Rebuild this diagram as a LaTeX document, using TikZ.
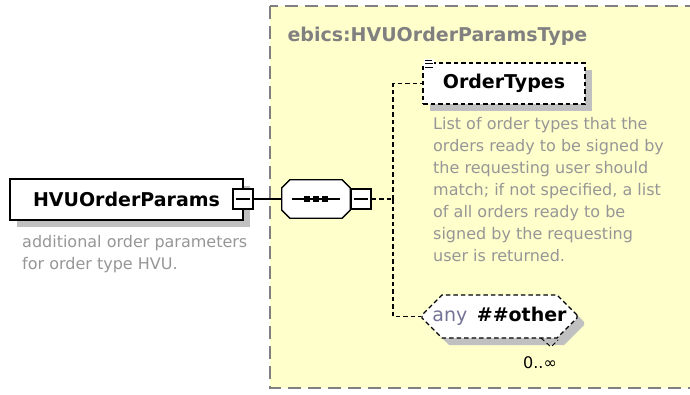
\documentclass[tikz,border=0pt]{standalone}
\usepackage{fontspec}
\setmainfont{DejaVu Sans}
\usetikzlibrary{positioning,shapes.misc,shadows}

\definecolor{typefill}{RGB}{255,255,204}
\definecolor{typeframe}{RGB}{128,128,128}
\definecolor{shadowgray}{RGB}{192,192,192}
\definecolor{docgray}{RGB}{150,150,150}
\definecolor{anygray}{RGB}{115,115,150}

\begin{document}
\begin{tikzpicture}[x=1pt, y=-1pt,
  box shadow/.style={general shadow={fill=shadowgray, draw=none, shadow xshift=7pt, shadow yshift=-7pt}},
  dashbox/.style={dash pattern=on 4.5pt off 3pt},
  elembox/.style={draw, fill=white, line width=1.3pt, box shadow, minimum height=41pt, inner sep=0pt, font=\bfseries\fontsize{19}{22}\selectfont},
  optbox/.style={elembox, dashbox},
  seqbox/.style={minimum width=68pt, minimum height=38pt, inner sep=0pt},
  anybox/.style={chamfered rectangle, chamfered rectangle xsep=9pt, chamfered rectangle ysep=11pt, draw, dashbox, fill=white, line width=1.3pt, box shadow, minimum width=155pt, minimum height=43pt, inner sep=0pt, font=\bfseries\fontsize{19}{22}\selectfont},
  minusbox/.style={draw, fill=white, line width=1.1pt, minimum size=20pt, inner sep=0pt,
    path picture={\draw[line width=1.1pt] ([xshift=3pt]path picture bounding box.west) -- ([xshift=-3pt]path picture bounding box.east);}},
  doc/.style={align=left, text=docgray, font=\fontsize{16}{22}\selectfont, inner sep=0pt},
  link/.style={line width=1.3pt},
  optlink/.style={line width=1.3pt, dashbox}
]
\useasboundingbox (0,0) rectangle (690,394);

% =====================
% TYPE FRAME
% =====================
\draw[typeframe, fill=typefill, line width=1.5pt, dash pattern=on 13pt off 7pt]
(270,6) rectangle (702,388);
\node[anchor=west, text=typeframe, font=\bfseries\fontsize{19}{22}\selectfont] (title) at (284,36) {ebics:HVUOrderParamsType};

% =====================
% ELEMENT
% =====================
\node[elembox, minimum width=233pt] (hvu) at (126.5,199.5) {HVUOrderParams};
\node[minusbox] (hvuminus) at (243,199) {};
\node[doc, anchor=north west] (hvudoc) at (22,235) {additional order parameters\\for order type HVU.};

% =====================
% SEQUENCE
% =====================
\node[seqbox] (seq) at (316,199) {};
\fill[shadowgray, shift={(7,7)}]
([xshift=8pt]seq.north west) -- ([xshift=-8pt]seq.north east) -- ([yshift=-8pt]seq.north east)
-- ([yshift=8pt]seq.south east) -- ([xshift=-8pt]seq.south east) -- ([xshift=8pt]seq.south west)
-- ([yshift=8pt]seq.south west) -- ([yshift=-8pt]seq.north west) -- cycle;
\filldraw[fill=white, line width=1.3pt]
([xshift=8pt]seq.north west) -- ([xshift=-8pt]seq.north east) -- ([yshift=-8pt]seq.north east)
-- ([yshift=8pt]seq.south east) -- ([xshift=-8pt]seq.south east) -- ([xshift=8pt]seq.south west)
-- ([yshift=8pt]seq.south west) -- ([yshift=-8pt]seq.north west) -- cycle;
\draw[line width=1.1pt] ([xshift=-24pt]seq.center) -- ([xshift=24pt]seq.center);
\foreach \dx in {-9,0,9}
  \fill ([xshift=\dx pt]seq.center) +(-3,-3) rectangle +(3,3);
\node[minusbox] (seqminus) at (361,199) {};
\coordinate (branch) at (393,199);

% =====================
% CHILDREN
% =====================
\node[optbox, minimum width=162pt] (types) at (504,83.5) {OrderTypes};
\fill[white] (423.5,59) rectangle (434,70);
\draw[line width=0.9pt] (425,60) -- (432,60) (425,63.5) -- (433,63.5) (425,67) -- (433,67);
\node[doc, anchor=north west] (typesdoc) at (433,117)
{List of order types that the\\orders ready to be signed by\\the requesting user should\\match; if not specified, a list\\of all orders ready to be\\signed by the requesting\\user is returned.};

\node[anybox] (any) at (499.5,316.5) {{\mdseries\color{anygray}any}\enspace\#\#other};
\draw[line width=0.9pt, dashbox] (541,338) -- (551,347) -- (558,340);
\node[font=\fontsize{16}{18}\selectfont] (occ) at (540,363) {0..∞};

% =====================
% CONNECTORS
% =====================
\draw[link] (hvuminus.east) -- (seq.west);
\draw[optlink] (seqminus.east) -- (branch);
\draw[optlink] (branch) |- (types.west);
\draw[optlink] (branch) |- (any.west);

\end{tikzpicture}
\end{document}
